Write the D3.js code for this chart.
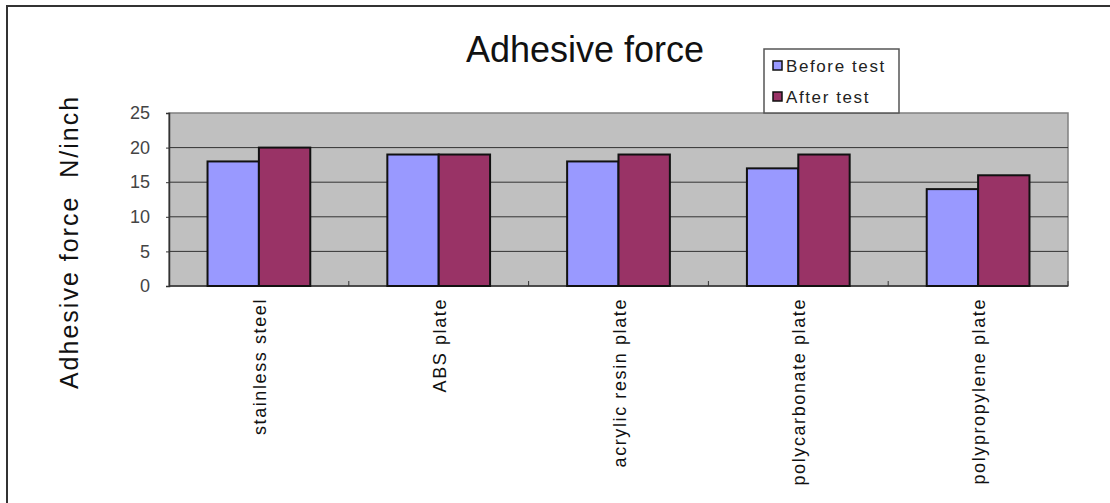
<!DOCTYPE html>
<html>
<head>
<meta charset="utf-8">
<script src="https://cdn.jsdelivr.net/npm/d3@7"></script>
<style>
  body { margin: 0; background: #fff; }
  text { font-family: "Liberation Sans", Arial, sans-serif; }
</style>
</head>
<body>
<script>
// adhesive force before / after test
const categories = ["stainless steel", "ABS plate", "acrylic resin plate", "polycarbonate plate", "polypropylene plate"];
const seriesNames = ["Before test", "After test"];
const before = [18, 19, 18, 17, 14];
const after = [20, 19, 19, 19, 16];
const yTicks = [0, 5, 10, 15, 20, 25];

const colors = ["#9999ff", "#993366"];

const width = 1110, height = 503;
const plot = { left: 169, right: 1068, top: 113, bottom: 286 };

const svg = d3.select("body")
  .append("svg")
  .attr("width", width)
  .attr("height", height);

// outer frame (left + top only visible)
svg.append("path")
  .attr("d", `M7,${height} L7,6 L${width},6`)
  .attr("fill", "none")
  .attr("stroke", "#333")
  .attr("stroke-width", 2);

const x = d3.scaleBand()
  .domain(categories)
  .range([plot.left, plot.right]);

const x1 = d3.scaleBand()
  .domain(seriesNames)
  .range([0, x.bandwidth()])
  .paddingOuter(0.75)
  .paddingInner(0);

const y = d3.scaleLinear()
  .domain([0, 25])
  .range([plot.bottom, plot.top]);

// plot area
svg.append("rect")
  .attr("x", plot.left)
  .attr("y", plot.top)
  .attr("width", plot.right - plot.left)
  .attr("height", plot.bottom - plot.top)
  .attr("fill", "#c0c0c0")
  .attr("stroke", "#808080")
  .attr("stroke-width", 1.5);

// gridlines
svg.append("g")
  .selectAll("line")
  .data(yTicks.filter(d => d > 0 && d < 25))
  .enter()
    .append("line")
    .attr("x1", plot.left)
    .attr("x2", plot.right)
    .attr("y1", d => y(d))
    .attr("y2", d => y(d))
    .attr("stroke", "#333")
    .attr("stroke-width", 1);

// y axis
const yAxis = svg.append("g")
  .attr("transform", `translate(${plot.left},0)`)
  .call(d3.axisLeft(y).tickValues(yTicks).tickSize(3).tickPadding(16));
yAxis.select(".domain").attr("stroke", "#333").attr("stroke-width", 1.5);
yAxis.selectAll(".tick line").attr("stroke", "#333");
yAxis.selectAll("text")
  .attr("font-size", 18)
  .attr("fill", "#444")
  .style("font-family", "Liberation Sans, Arial, sans-serif");

// x axis baseline + ticks between categories
svg.append("line")
  .attr("x1", plot.left).attr("x2", plot.right)
  .attr("y1", plot.bottom).attr("y2", plot.bottom)
  .attr("stroke", "#333").attr("stroke-width", 1.5);

svg.append("g")
  .selectAll("line")
  .data(categories.slice(1).concat(["end"]))
  .enter()
    .append("line")
    .attr("x1", (d, i) => i < categories.length - 1 ? x(d) : plot.right)
    .attr("x2", (d, i) => i < categories.length - 1 ? x(d) : plot.right)
    .attr("y1", plot.bottom)
    .attr("y2", plot.bottom - 5)
    .attr("stroke", "#333");

// bars
const data = categories.map((c, i) => ({ cat: c, values: [before[i], after[i]] }));

const groups = svg.append("g")
  .selectAll("g")
  .data(data)
  .enter()
    .append("g")
    .attr("transform", d => `translate(${x(d.cat)},0)`);

groups.selectAll("rect")
  .data(d => d.values.map((v, j) => ({ name: seriesNames[j], value: v, j: j })))
  .enter()
    .append("rect")
    .attr("x", d => x1(d.name))
    .attr("y", d => y(d.value))
    .attr("width", x1.bandwidth())
    .attr("height", d => y(0) - y(d.value))
    .attr("fill", d => colors[d.j])
    .attr("stroke", "#111")
    .attr("stroke-width", 2);

// category labels (vertical)
svg.append("g")
  .selectAll("text")
  .data(categories)
  .enter()
    .append("text")
    .attr("transform", d => `translate(${x(d) + x.bandwidth() / 2 + 7},298) rotate(-90)`)
    .attr("text-anchor", "end")
    .attr("font-size", 18)
    .attr("letter-spacing", 1.6)
    .attr("fill", "#111")
    .text(d => d);

// title
svg.append("text")
  .attr("x", 585)
  .attr("y", 62)
  .attr("text-anchor", "middle")
  .attr("font-size", 36)
  .attr("fill", "#111")
  .text("Adhesive force");

// y axis title
svg.append("text")
  .attr("transform", "translate(78,242) rotate(-90)")
  .attr("text-anchor", "middle")
  .attr("font-size", 25)
  .attr("letter-spacing", 2)
  .attr("fill", "#111")
  .attr("xml:space", "preserve")
  .style("white-space", "pre")
  .text("Adhesive force  N/inch");

// legend
const legend = svg.append("g").attr("transform", "translate(764,49)");
legend.append("rect")
  .attr("width", 135)
  .attr("height", 64)
  .attr("fill", "#fff")
  .attr("stroke", "#555")
  .attr("stroke-width", 1.5);

const items = legend.selectAll("g")
  .data(seriesNames)
  .enter()
    .append("g")
    .attr("transform", (d, i) => `translate(9,${17 + i * 31})`);

items.append("rect")
  .attr("x", 0).attr("y", -5)
  .attr("width", 9).attr("height", 9)
  .attr("fill", (d, i) => colors[i])
  .attr("stroke", "#111")
  .attr("stroke-width", 1.5);

items.append("text")
  .attr("x", 13)
  .attr("y", 6)
  .attr("font-size", 17)
  .attr("letter-spacing", 1.6)
  .attr("fill", "#222")
  .text(d => d);
</script>
</body>
</html>
